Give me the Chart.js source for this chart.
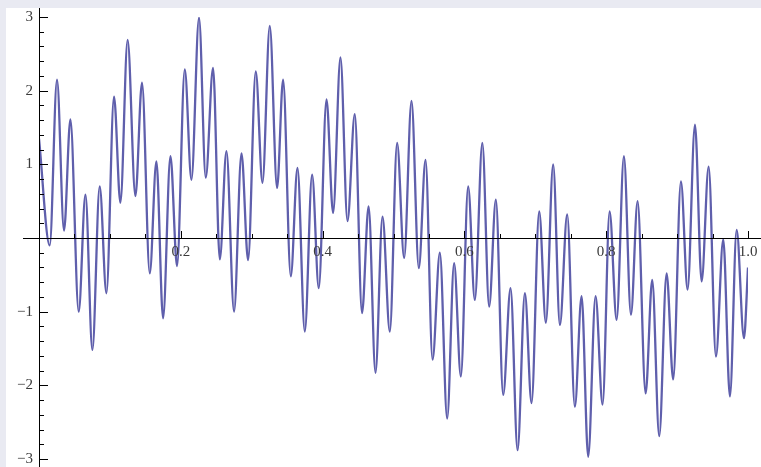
<!DOCTYPE html>
<html>
<head>
<meta charset="utf-8">
<script src="https://cdn.jsdelivr.net/npm/chart.js@4"></script>
<style>
  html, body { margin: 0; padding: 0; }
  body { width: 761px; height: 467px; background: #e9eaf2; position: relative; overflow: hidden; }
  #paper { position: absolute; left: 6px; top: 8px; right: 0; bottom: 0; background: #ffffff; }
  #plot { position: absolute; left: 0; top: 0; }
</style>
</head>
<body>
<div id="paper"></div>
<canvas id="plot" width="761" height="467"></canvas>
<script>
// Extrema of the curve (x in axis units)
const xValues = [
    0, 0.0151, 0.0254, 0.0353, 0.0443, 0.0560, 0.0655, 0.0753, 0.0856, 0.0951,
    0.1058, 0.1148, 0.1250, 0.1360, 0.1453, 0.1562, 0.1656, 0.1750, 0.1854, 0.1947,
    0.2056, 0.2150, 0.2257, 0.2352, 0.2455, 0.2550, 0.2644, 0.2751, 0.2856, 0.2949,
    0.3057, 0.3152, 0.3255, 0.3358, 0.3443, 0.3551, 0.3646, 0.3749, 0.3852, 0.3946,
    0.4055, 0.4148, 0.4252, 0.4351, 0.4454, 0.4556, 0.4649, 0.4746, 0.4845, 0.4948,
    0.5051, 0.5150, 0.5254, 0.5357, 0.5452, 0.5551, 0.5654, 0.5757, 0.5855, 0.5950,
    0.6053, 0.6147, 0.6253, 0.6349, 0.6444, 0.6547, 0.6651, 0.6750, 0.6853, 0.6947,
    0.7055, 0.7149, 0.7252, 0.7347, 0.7450, 0.7558, 0.7653, 0.7746, 0.7850, 0.7949,
    0.8048, 0.8147, 0.8250, 0.8349, 0.8443, 0.8556, 0.8649, 0.8748, 0.8852, 0.8945,
    0.9054, 0.9148, 0.9252, 0.9346, 0.9445, 0.9548, 0.9651, 0.9745, 0.9840, 0.9943,
    1.0
];
const yValues = [
    1.35, -0.10, 2.15, 0.10, 1.61, -1.00, 0.59, -1.52, 0.70, -0.75,
    1.92, 0.48, 2.69, 0.57, 2.11, -0.48, 1.04, -1.09, 1.11, -0.38,
    2.29, 0.79, 2.99, 0.82, 2.31, -0.29, 1.18, -1.00, 1.15, -0.30,
    2.26, 0.75, 2.88, 0.68, 2.15, -0.52, 0.95, -1.27, 0.86, -0.68,
    1.88, 0.34, 2.45, 0.23, 1.68, -1.02, 0.43, -1.83, 0.29, -1.27,
    1.29, -0.27, 1.86, -0.41, 1.06, -1.65, -0.20, -2.45, -0.34, -1.88,
    0.70, -0.84, 1.29, -0.93, 0.52, -2.13, -0.68, -2.88, -0.75, -2.24,
    0.36, -1.15, 1.00, -1.18, 0.32, -2.29, -0.79, -2.97, -0.79, -2.26,
    0.36, -1.11, 1.11, -1.04, 0.50, -2.11, -0.57, -2.69, -0.48, -1.92,
    0.77, -0.70, 1.54, -0.59, 0.97, -1.61, -0.02, -2.15, 0.11, -1.36,
    -0.40
];

// Axis ticks
const xTickValues = [0.2, 0.4, 0.6, 0.8, 1.0];
const xTickLabels = ['0.2', '0.4', '0.6', '0.8', '1.0'];
const yTickValues = [-3, -2, -1, 1, 2, 3];
const yTickLabels = ['\u22123', '\u22122', '\u22121', '1', '2', '3'];

const points = xValues.map((x, i) => ({ x: x, y: yValues[i] }));

// Mathematica-style axes crossing at the origin
const axesPlugin = {
    id: 'mmaAxes',
    afterDatasetsDraw(chart) {
        const ctx = chart.ctx;
        const sx = chart.scales.x;
        const sy = chart.scales.y;
        const x0 = sx.getPixelForValue(0);
        const y0 = sy.getPixelForValue(0);

        ctx.save();
        ctx.strokeStyle = '#000000';
        ctx.lineWidth = 1;

        // axis lines
        ctx.beginPath();
        ctx.moveTo(23, Math.round(y0) + 0.5);
        ctx.lineTo(761, Math.round(y0) + 0.5);
        ctx.moveTo(Math.round(x0) + 0.5, 8);
        ctx.lineTo(Math.round(x0) + 0.5, 467);
        ctx.stroke();

        // x ticks (pointing up)
        ctx.beginPath();
        for (let k = 1; k <= 20; k++) {
            const px = Math.round(sx.getPixelForValue(k * 0.05)) + 0.5;
            const len = (k % 4 === 0) ? 7 : 4;
            ctx.moveTo(px, y0);
            ctx.lineTo(px, y0 - len);
        }
        // y ticks (pointing right)
        for (let k = -15; k <= 15; k++) {
            if (k === 0) continue;
            const py = Math.round(sy.getPixelForValue(k * 0.2)) + 0.5;
            const len = (k % 5 === 0) ? 9 : 5;
            ctx.moveTo(x0, py);
            ctx.lineTo(x0 + len, py);
        }
        ctx.stroke();

        // tick labels
        ctx.fillStyle = '#3a3a3a';
        ctx.font = '15px "Liberation Serif", "DejaVu Serif", serif';
        ctx.textAlign = 'center';
        ctx.textBaseline = 'top';
        xTickValues.forEach((v, i) => {
            ctx.fillText(xTickLabels[i], sx.getPixelForValue(v), y0 + 7);
        });
        ctx.textAlign = 'right';
        ctx.textBaseline = 'middle';
        yTickValues.forEach((v, i) => {
            ctx.fillText(yTickLabels[i], x0 - 6, sy.getPixelForValue(v));
        });
        ctx.restore();
    }
};

new Chart(document.getElementById('plot'), {
    type: 'line',
    data: {
        datasets: [{
            data: points,
            borderColor: '#5f5fac',
            borderWidth: 2.3,
            pointRadius: 0,
            fill: false,
            cubicInterpolationMode: 'monotone'
        }]
    },
    options: {
        responsive: false,
        animation: false,
        devicePixelRatio: 1,
        layout: {
            padding: { left: 39, right: 13, top: 17, bottom: 8 }
        },
        plugins: {
            legend: { display: false },
            tooltip: { enabled: false }
        },
        scales: {
            x: { type: 'linear', min: 0, max: 1, display: false },
            y: { type: 'linear', min: -3, max: 3, display: false }
        }
    },
    plugins: [axesPlugin]
});
</script>
</body>
</html>
